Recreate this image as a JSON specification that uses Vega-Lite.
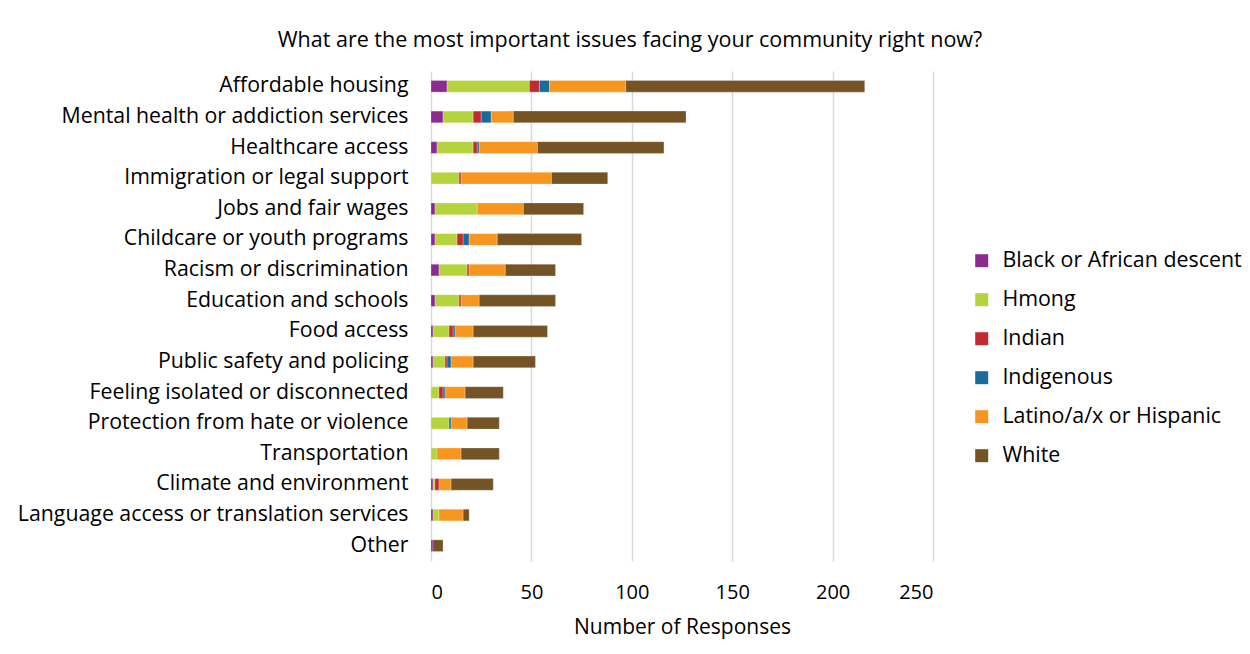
{
  "$schema": "https://vega.github.io/schema/vega-lite/v6.json",
  "autosize": "none",
  "width": 502,
  "height": 490,
  "padding": {"left": 431, "top": 71, "right": 317, "bottom": 93},
  "background": "white",
  "config": {
    "font": "Open Sans",
    "view": {"stroke": null}
  },
  "title": {
    "text": "What are the most important issues facing your community right now?",
    "fontSize": 21.5,
    "fontWeight": "normal",
    "font": "Open Sans",
    "color": "#000000",
    "anchor": "middle",
    "dx": -52,
    "offset": 20
  },
  "data": {
    "values": [
      {"issue": "Affordable housing", "group": "Black or African descent", "n": 8},
      {"issue": "Affordable housing", "group": "Hmong", "n": 41},
      {"issue": "Affordable housing", "group": "Indian", "n": 5},
      {"issue": "Affordable housing", "group": "Indigenous", "n": 5},
      {"issue": "Affordable housing", "group": "Latino/a/x or Hispanic", "n": 38},
      {"issue": "Affordable housing", "group": "White", "n": 119},
      {"issue": "Mental health or addiction services", "group": "Black or African descent", "n": 6},
      {"issue": "Mental health or addiction services", "group": "Hmong", "n": 15},
      {"issue": "Mental health or addiction services", "group": "Indian", "n": 4},
      {"issue": "Mental health or addiction services", "group": "Indigenous", "n": 5},
      {"issue": "Mental health or addiction services", "group": "Latino/a/x or Hispanic", "n": 11},
      {"issue": "Mental health or addiction services", "group": "White", "n": 86},
      {"issue": "Healthcare access", "group": "Black or African descent", "n": 3},
      {"issue": "Healthcare access", "group": "Hmong", "n": 18},
      {"issue": "Healthcare access", "group": "Indian", "n": 2},
      {"issue": "Healthcare access", "group": "Indigenous", "n": 1},
      {"issue": "Healthcare access", "group": "Latino/a/x or Hispanic", "n": 29},
      {"issue": "Healthcare access", "group": "White", "n": 63},
      {"issue": "Immigration or legal support", "group": "Hmong", "n": 14},
      {"issue": "Immigration or legal support", "group": "Indian", "n": 1},
      {"issue": "Immigration or legal support", "group": "Latino/a/x or Hispanic", "n": 45},
      {"issue": "Immigration or legal support", "group": "White", "n": 28},
      {"issue": "Jobs and fair wages", "group": "Black or African descent", "n": 2},
      {"issue": "Jobs and fair wages", "group": "Hmong", "n": 21},
      {"issue": "Jobs and fair wages", "group": "Latino/a/x or Hispanic", "n": 23},
      {"issue": "Jobs and fair wages", "group": "White", "n": 30},
      {"issue": "Childcare or youth programs", "group": "Black or African descent", "n": 2},
      {"issue": "Childcare or youth programs", "group": "Hmong", "n": 11},
      {"issue": "Childcare or youth programs", "group": "Indian", "n": 3},
      {"issue": "Childcare or youth programs", "group": "Indigenous", "n": 3},
      {"issue": "Childcare or youth programs", "group": "Latino/a/x or Hispanic", "n": 14},
      {"issue": "Childcare or youth programs", "group": "White", "n": 42},
      {"issue": "Racism or discrimination", "group": "Black or African descent", "n": 4},
      {"issue": "Racism or discrimination", "group": "Hmong", "n": 14},
      {"issue": "Racism or discrimination", "group": "Indian", "n": 1},
      {"issue": "Racism or discrimination", "group": "Latino/a/x or Hispanic", "n": 18},
      {"issue": "Racism or discrimination", "group": "White", "n": 25},
      {"issue": "Education and schools", "group": "Black or African descent", "n": 2},
      {"issue": "Education and schools", "group": "Hmong", "n": 12},
      {"issue": "Education and schools", "group": "Indian", "n": 1},
      {"issue": "Education and schools", "group": "Latino/a/x or Hispanic", "n": 9},
      {"issue": "Education and schools", "group": "White", "n": 38},
      {"issue": "Food access", "group": "Black or African descent", "n": 1},
      {"issue": "Food access", "group": "Hmong", "n": 8},
      {"issue": "Food access", "group": "Indian", "n": 2},
      {"issue": "Food access", "group": "Indigenous", "n": 1},
      {"issue": "Food access", "group": "Latino/a/x or Hispanic", "n": 9},
      {"issue": "Food access", "group": "White", "n": 37},
      {"issue": "Public safety and policing", "group": "Black or African descent", "n": 1},
      {"issue": "Public safety and policing", "group": "Hmong", "n": 6},
      {"issue": "Public safety and policing", "group": "Indian", "n": 1},
      {"issue": "Public safety and policing", "group": "Indigenous", "n": 2},
      {"issue": "Public safety and policing", "group": "Latino/a/x or Hispanic", "n": 11},
      {"issue": "Public safety and policing", "group": "White", "n": 31},
      {"issue": "Feeling isolated or disconnected", "group": "Hmong", "n": 4},
      {"issue": "Feeling isolated or disconnected", "group": "Indian", "n": 2},
      {"issue": "Feeling isolated or disconnected", "group": "Indigenous", "n": 1},
      {"issue": "Feeling isolated or disconnected", "group": "Latino/a/x or Hispanic", "n": 10},
      {"issue": "Feeling isolated or disconnected", "group": "White", "n": 19},
      {"issue": "Protection from hate or violence", "group": "Hmong", "n": 9},
      {"issue": "Protection from hate or violence", "group": "Indigenous", "n": 1},
      {"issue": "Protection from hate or violence", "group": "Latino/a/x or Hispanic", "n": 8},
      {"issue": "Protection from hate or violence", "group": "White", "n": 16},
      {"issue": "Transportation", "group": "Hmong", "n": 3},
      {"issue": "Transportation", "group": "Latino/a/x or Hispanic", "n": 12},
      {"issue": "Transportation", "group": "White", "n": 19},
      {"issue": "Climate and environment", "group": "Black or African descent", "n": 1},
      {"issue": "Climate and environment", "group": "Hmong", "n": 1},
      {"issue": "Climate and environment", "group": "Indian", "n": 2},
      {"issue": "Climate and environment", "group": "Latino/a/x or Hispanic", "n": 6},
      {"issue": "Climate and environment", "group": "White", "n": 21},
      {"issue": "Language access or translation services", "group": "Black or African descent", "n": 1},
      {"issue": "Language access or translation services", "group": "Hmong", "n": 3},
      {"issue": "Language access or translation services", "group": "Latino/a/x or Hispanic", "n": 12},
      {"issue": "Language access or translation services", "group": "White", "n": 3},
      {"issue": "Other", "group": "Black or African descent", "n": 1},
      {"issue": "Other", "group": "White", "n": 5}
    ]
  },
  "mark": {"type": "bar", "stroke": "#ffffff", "strokeWidth": 0.4, "strokeOpacity": 0.6},
  "encoding": {
    "y": {
      "field": "issue",
      "type": "nominal",
      "sort": ["Affordable housing", "Mental health or addiction services", "Healthcare access", "Immigration or legal support", "Jobs and fair wages", "Childcare or youth programs", "Racism or discrimination", "Education and schools", "Food access", "Public safety and policing", "Feeling isolated or disconnected", "Protection from hate or violence", "Transportation", "Climate and environment", "Language access or translation services", "Other"],
      "scale": {"paddingInner": 0.62, "paddingOuter": 0.31},
      "axis": {
        "title": null,
        "domain": false,
        "ticks": false,
        "labelFontSize": 21.3,
        "labelFont": "Open Sans",
        "labelColor": "#000000",
        "labelPadding": 23,
        "labelLimit": 430
      }
    },
    "x": {
      "field": "n",
      "type": "quantitative",
      "stack": "zero",
      "scale": {"domain": [0, 250], "nice": false},
      "axis": {
        "title": "Number of Responses",
        "titleFontSize": 21,
        "titleFontWeight": "normal",
        "titleFont": "Open Sans",
        "titleColor": "#000000",
        "titlePadding": 14,
        "values": [0, 50, 100, 150, 200, 250],
        "domain": false,
        "ticks": false,
        "grid": true,
        "gridColor": "#d9d9d9",
        "gridWidth": 1.5,
        "labelFontSize": 20,
        "labelFont": "Open Sans",
        "labelColor": "#000000",
        "labelPadding": 21
      }
    },
    "color": {
      "field": "group",
      "type": "nominal",
      "scale": {
        "domain": ["Black or African descent", "Hmong", "Indian", "Indigenous", "Latino/a/x or Hispanic", "White"],
        "range": ["#8B2B8E", "#B5D33D", "#BF2B31", "#186C9A", "#F7961F", "#745324"]
      },
      "legend": {
        "title": null,
        "orient": "none",
        "legendX": 540,
        "legendY": 179,
        "symbolType": "square",
        "symbolSize": 169,
        "symbolStrokeWidth": 0,
        "labelFontSize": 21.4,
        "labelFont": "Open Sans",
        "labelColor": "#000000",
        "labelOffset": 10,
        "rowPadding": 16,
        "labelLimit": 400
      }
    },
    "order": {"field": "group", "sort": "ascending"}
  }
}
